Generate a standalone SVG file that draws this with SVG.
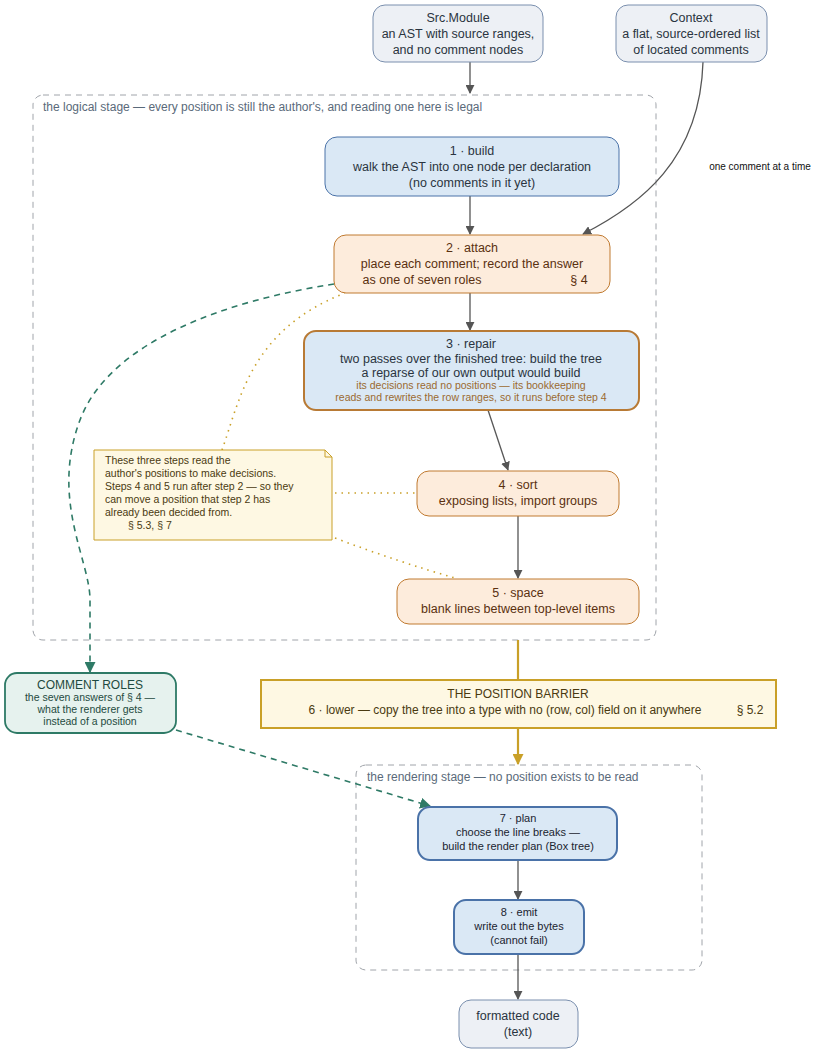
<svg xmlns="http://www.w3.org/2000/svg" width="828" height="1055" viewBox="0 0 828 1055">
<defs>
<style>
text{font-family:"Liberation Sans",Arial,sans-serif;text-anchor:middle}
.t{font-size:12.5px;fill:#2a3440}
.o{font-size:12.5px;fill:#5a3010}
.s{font-size:10.5px;fill:#9a6a30}
.cl{fill:none;stroke:#a0a4aa;stroke-dasharray:6,5}
.cll{font-size:12px;fill:#5a6a7a;text-anchor:start}
.in{fill:#edf0f5;stroke:#7a8fae}
.bl{fill:#dae8f5;stroke:#4a72a8}
.or{fill:#fdecdc;stroke:#c07a30}
.e{fill:none;stroke:#555;stroke-width:1.3}
.g{fill:none;stroke:#2e7a66;stroke-width:1.6;stroke-dasharray:6,5}
.d{fill:none;stroke:#c9a028;stroke-width:1.6;stroke-dasharray:1.5,5}
</style>
<marker id="a" viewBox="0 0 10 10" refX="9" refY="5" markerWidth="9" markerHeight="9" markerUnits="userSpaceOnUse" orient="auto"><path d="M0,0L10,5L0,10z" fill="#555"/></marker>
<marker id="ag" viewBox="0 0 10 10" refX="9" refY="5" markerWidth="11" markerHeight="11" markerUnits="userSpaceOnUse" orient="auto"><path d="M0,0L10,5L0,10z" fill="#2e7a66"/></marker>
<marker id="ay" viewBox="0 0 10 10" refX="9" refY="5" markerWidth="11" markerHeight="11" markerUnits="userSpaceOnUse" orient="auto"><path d="M0,0L10,5L0,10z" fill="#c9a028"/></marker>
</defs>
<g id="cluster-logical"><rect class="cl" x="33" y="95" width="623" height="545" rx="10"/><text class="cll" x="43" y="111">the logical stage — every position is still the author's, and reading one here is legal</text></g>
<g id="cluster-rendering"><rect class="cl" x="356" y="765" width="346" height="205" rx="10"/><text class="cll" x="367" y="781">the rendering stage — no position exists to be read</text></g>
<g id="connectors">
<path class="e" d="M470,62V93" marker-end="url(#a)"/>
<path class="e" d="M703,62C700,160 640,205 583,234" marker-end="url(#a)"/>
<text x="760" y="170" style="font-size:10px;fill:#111">one comment at a time</text>
<path class="e" d="M470,196V234" marker-end="url(#a)"/>
<path class="e" d="M470,293V330" marker-end="url(#a)"/>
<path class="e" d="M488,410L508,470" marker-end="url(#a)"/>
<path class="e" d="M518,516V578" marker-end="url(#a)"/>
<path d="M518,640V680" fill="none" stroke="#c9a028" stroke-width="2.2"/>
<path d="M518,728V764" fill="none" stroke="#c9a028" stroke-width="2.2" marker-end="url(#ay)"/>
<path class="g" d="M334,284C230,300 110,340 80,420C50,500 90,560 90,600V672" marker-end="url(#ag)"/>
<path class="g" d="M176,730L430,806" marker-end="url(#ag)"/>
<path class="d" d="M222,450C240,400 250,330 345,293"/>
<path class="d" d="M335,493H417"/>
<path class="d" d="M335,538C380,555 420,568 455,578"/>
<path class="e" d="M518,860V899" marker-end="url(#a)"/>
<path class="e" d="M518,954V999" marker-end="url(#a)"/>
</g>
<g id="src"><rect class="in" x="373" y="5" width="170" height="57" rx="12"/><text class="t" x="458" y="22">Src.Module</text><text class="t" x="458" y="38">an AST with source ranges,</text><text class="t" x="458" y="54">and no comment nodes</text></g>
<g id="context"><rect class="in" x="616" y="5" width="151" height="57" rx="12"/><text class="t" x="691" y="22">Context</text><text class="t" x="691" y="38">a flat, source-ordered list</text><text class="t" x="691" y="54">of located comments</text></g>
<g id="n1"><rect class="bl" x="325" y="137" width="294" height="59" rx="12"/><text class="t" x="472" y="155">1 · build</text><text class="t" x="472" y="171">walk the AST into one node per declaration</text><text class="t" x="472" y="187">(no comments in it yet)</text></g>
<g id="n2"><rect class="or" x="334" y="235" width="276" height="58" rx="12"/><text class="o" x="472" y="252">2 · attach</text><text class="o" x="472" y="268">place each comment; record the answer</text><text class="o" x="422" y="284">as one of seven roles</text><text class="o" x="579" y="284">§ 4</text></g>
<g id="n3"><rect x="304" y="331" width="335" height="79" rx="12" fill="#dae8f5" stroke="#b87a35" stroke-width="2"/><text class="t" x="471" y="348">3 · repair</text><text class="t" x="471" y="363">two passes over the finished tree: build the tree</text><text class="t" x="471" y="377">a reparse of our own output would build</text><text class="s" x="471" y="389">its decisions read no positions — its bookkeeping</text><text class="s" x="471" y="401">reads and rewrites the row ranges, so it runs before step 4</text></g>
<g id="note"><path d="M94,450H325L332,457V540H94Z" fill="#fef8e3" stroke="#c9a028"/><path d="M325,450V457H332" fill="none" stroke="#c9a028"/>
<g style="font-size:10.5px;fill:#4a3a10;text-anchor:start"><text x="105" y="464" style="text-anchor:start">These three steps read the</text><text x="105" y="477" style="text-anchor:start">author's positions to make decisions.</text><text x="105" y="490" style="text-anchor:start">Steps 4 and 5 run after step 2 — so they</text><text x="105" y="503" style="text-anchor:start">can move a position that step 2 has</text><text x="105" y="516" style="text-anchor:start">already been decided from.</text><text x="128" y="529" style="text-anchor:start">§ 5.3, § 7</text></g></g>
<g id="n4"><rect class="or" x="417" y="471" width="202" height="45" rx="12"/><text class="o" x="518" y="489">4 · sort</text><text class="o" x="518" y="505">exposing lists, import groups</text></g>
<g id="n5"><rect class="or" x="397" y="579" width="242" height="45" rx="12"/><text class="o" x="518" y="597">5 · space</text><text class="o" x="518" y="613">blank lines between top-level items</text></g>
<g id="barrier"><rect x="261" y="680" width="515" height="48" fill="#fef8e3" stroke="#c9a028" stroke-width="2"/><text x="518" y="698" style="font-size:12px;fill:#4a3a10">THE POSITION BARRIER</text><text x="505" y="714" style="font-size:12px;fill:#4a3a10">6 · lower — copy the tree into a type with no (row, col) field on it anywhere</text><text x="750" y="714" style="font-size:12px;fill:#4a3a10">§ 5.2</text></g>
<g id="roles"><rect x="5" y="673" width="171" height="60" rx="12" fill="#e6f2ee" stroke="#2e7a66" stroke-width="1.8"/><text x="90" y="689" style="font-size:12px;fill:#1e4a40">COMMENT ROLES</text><g style="font-size:10.5px;fill:#1e4a40"><text x="90" y="701">the seven answers of § 4 —</text><text x="90" y="713">what the renderer gets</text><text x="90" y="725">instead of a position</text></g></g>
<g id="n7"><rect class="bl" x="418" y="807" width="199" height="53" rx="12" stroke-width="2"/><g style="font-size:11px;fill:#1a2430"><text x="518" y="822">7 · plan</text><text x="518" y="836">choose the line breaks —</text><text x="518" y="850">build the render plan (Box tree)</text></g></g>
<g id="n8"><rect class="bl" x="454" y="900" width="130" height="54" rx="12" stroke-width="2"/><g style="font-size:11px;fill:#1a2430"><text x="519" y="916">8 · emit</text><text x="519" y="930">write out the bytes</text><text x="519" y="944">(cannot fail)</text></g></g>
<g id="out"><rect class="in" x="459" y="1000" width="119" height="48" rx="12"/><text class="t" x="518" y="1020">formatted code</text><text class="t" x="518" y="1036">(text)</text></g>
</svg>
